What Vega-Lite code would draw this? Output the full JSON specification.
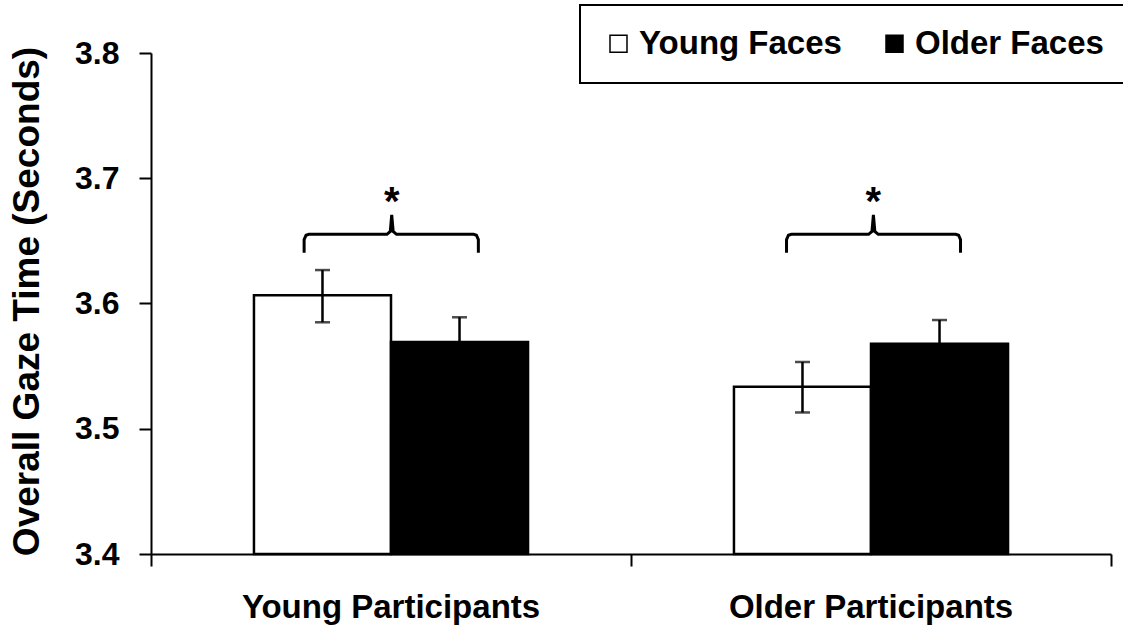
{
  "$schema": "https://vega.github.io/schema/vega-lite/v6.json",
  "width": 960,
  "height": 501,
  "autosize": {"type": "none"},
  "padding": {"left": 151, "top": 53, "right": 12, "bottom": 77},
  "background": "white",
  "config": {
    "view": {"stroke": null},
    "font": "Liberation Sans",
    "legend": {"strokeWidth": 2}
  },
  "datasets": {
    "bars": [
      {"participants": "Young Participants", "faces": "Young Faces", "mean": 3.6065, "lo": 3.585, "hi": 3.6267},
      {"participants": "Young Participants", "faces": "Older Faces", "mean": 3.5693, "lo": 3.5496, "hi": 3.589},
      {"participants": "Older Participants", "faces": "Young Faces", "mean": 3.5336, "lo": 3.5130, "hi": 3.5533},
      {"participants": "Older Participants", "faces": "Older Faces", "mean": 3.5679, "lo": 3.549, "hi": 3.5868}
    ],
    "brackets": [
      {"g": "A", "i": 1, "x": 0.319, "y": 3.6406},
      {"g": "A", "i": 2, "x": 0.319, "y": 3.651},
      {"g": "A", "i": 3, "x": 0.323, "y": 3.6545},
      {"g": "A", "i": 4, "x": 0.329, "y": 3.6552},
      {"g": "A", "i": 5, "x": 0.4915, "y": 3.6552},
      {"g": "A", "i": 6, "x": 0.4985, "y": 3.6575},
      {"g": "A", "i": 7, "x": 0.5015, "y": 3.6707},
      {"g": "A", "i": 8, "x": 0.5045, "y": 3.6575},
      {"g": "A", "i": 9, "x": 0.5115, "y": 3.6552},
      {"g": "A", "i": 10, "x": 0.672, "y": 3.6552},
      {"g": "A", "i": 11, "x": 0.678, "y": 3.6545},
      {"g": "A", "i": 12, "x": 0.682, "y": 3.651},
      {"g": "A", "i": 13, "x": 0.682, "y": 3.6406},
      {"g": "B", "i": 1, "x": 1.324, "y": 3.6406},
      {"g": "B", "i": 2, "x": 1.324, "y": 3.651},
      {"g": "B", "i": 3, "x": 1.328, "y": 3.6545},
      {"g": "B", "i": 4, "x": 1.334, "y": 3.6552},
      {"g": "B", "i": 5, "x": 1.495, "y": 3.6552},
      {"g": "B", "i": 6, "x": 1.502, "y": 3.6575},
      {"g": "B", "i": 7, "x": 1.505, "y": 3.6707},
      {"g": "B", "i": 8, "x": 1.508, "y": 3.6575},
      {"g": "B", "i": 9, "x": 1.515, "y": 3.6552},
      {"g": "B", "i": 10, "x": 1.6765, "y": 3.6552},
      {"g": "B", "i": 11, "x": 1.6825, "y": 3.6545},
      {"g": "B", "i": 12, "x": 1.6865, "y": 3.651},
      {"g": "B", "i": 13, "x": 1.6865, "y": 3.6406}
    ],
    "stars": [
      {"x": 0.5015, "y": 3.6705, "label": "*"},
      {"x": 1.505, "y": 3.6705, "label": "*"}
    ]
  },
  "layer": [
    {
      "data": {"name": "bars"},
      "encoding": {
        "x": {
          "field": "participants", "type": "nominal",
          "sort": ["Young Participants", "Older Participants"],
          "scale": {"paddingInner": 0.429, "paddingOuter": 0.2145},
          "axis": {
            "title": null, "labelAngle": 0, "orient": "bottom",
            "domainColor": "black", "domainWidth": 2,
            "ticks": false, "tickSize": 12,
            "labelFontSize": 33, "labelFontWeight": "bold", "labelColor": "black", "labelPadding": 37, "labelLimit": 500
          }
        },
        "xOffset": {"field": "faces", "type": "nominal", "sort": ["Young Faces", "Older Faces"], "scale": {"paddingInner": 0, "paddingOuter": 0}},
        "y": {
          "field": "mean", "type": "quantitative",
          "scale": {"domain": [3.4, 3.8], "nice": false, "zero": false},
          "axis": {
            "title": "Overall Gaze Time (Seconds)",
            "values": [3.4, 3.5, 3.6, 3.7, 3.8], "format": ".1f", "grid": false,
            "domainColor": "black", "domainWidth": 2,
            "tickSize": 12, "tickColor": "black", "tickWidth": 2,
            "labelFontSize": 32, "labelFontWeight": "bold", "labelColor": "black", "labelPadding": 20,
            "titleFontSize": 37, "titleFontWeight": "bold", "titleColor": "black",
            "titleX": -124, "titleY": 248, "titleAlign": "center", "titleBaseline": "middle", "titleAngle": -90
          }
        }
      },
      "layer": [
        {
          "mark": {"type": "bar", "stroke": "black", "strokeWidth": 2.5},
          "encoding": {
            "y2": {"datum": 3.4},
            "color": {
              "field": "faces", "type": "nominal",
              "sort": ["Young Faces", "Older Faces"],
              "scale": {"domain": ["Young Faces", "Older Faces"], "range": ["white", "black"]},
              "legend": {
                "orient": "none", "legendX": 429, "legendY": -48,
                "direction": "horizontal", "title": null,
                "labelFontSize": 33, "labelFontWeight": "bold", "labelColor": "black", "labelLimit": 400,
                "symbolType": "square", "symbolSize": 289, "symbolStrokeColor": "black", "symbolStrokeWidth": 1.5,
                "labelOffset": 4, "columnPadding": 36, "padding": 22,
                "strokeColor": "black", "fillColor": "white"
              }
            }
          }
        },
        {
          "mark": {"type": "rule", "color": "black", "strokeWidth": 2.5},
          "encoding": {"y": {"field": "lo", "type": "quantitative"}, "y2": {"field": "hi"}}
        },
        {
          "mark": {"type": "tick", "orient": "horizontal", "size": 15, "thickness": 2.5, "color": "black"},
          "encoding": {"y": {"field": "hi", "type": "quantitative"}}
        },
        {
          "mark": {"type": "tick", "orient": "horizontal", "size": 15, "thickness": 2.5, "color": "black"},
          "encoding": {"y": {"field": "lo", "type": "quantitative"}}
        }
      ]
    },
    {
      "layer": [
        {
          "data": {"name": "brackets"},
          "mark": {"type": "line", "color": "black", "strokeWidth": 3},
          "encoding": {
            "x": {
              "field": "x", "type": "quantitative",
              "scale": {"domain": [0, 2], "nice": false, "zero": false},
              "axis": {"orient": "bottom", "values": [0, 1, 2], "labels": false, "domain": false, "grid": false, "title": null, "tickSize": 12, "tickColor": "black", "tickWidth": 2}
            },
            "y": {"field": "y", "type": "quantitative"},
            "detail": {"field": "g", "type": "nominal"},
            "order": {"field": "i", "type": "quantitative"}
          }
        },
        {
          "data": {"name": "stars"},
          "mark": {"type": "text", "fontSize": 40, "fontWeight": "bold", "color": "black", "baseline": "alphabetic", "align": "center"},
          "encoding": {
            "x": {"field": "x", "type": "quantitative"},
            "y": {"field": "y", "type": "quantitative"},
            "text": {"field": "label"}
          }
        }
      ]
    }
  ],
  "resolve": {"scale": {"x": "independent"}}
}
